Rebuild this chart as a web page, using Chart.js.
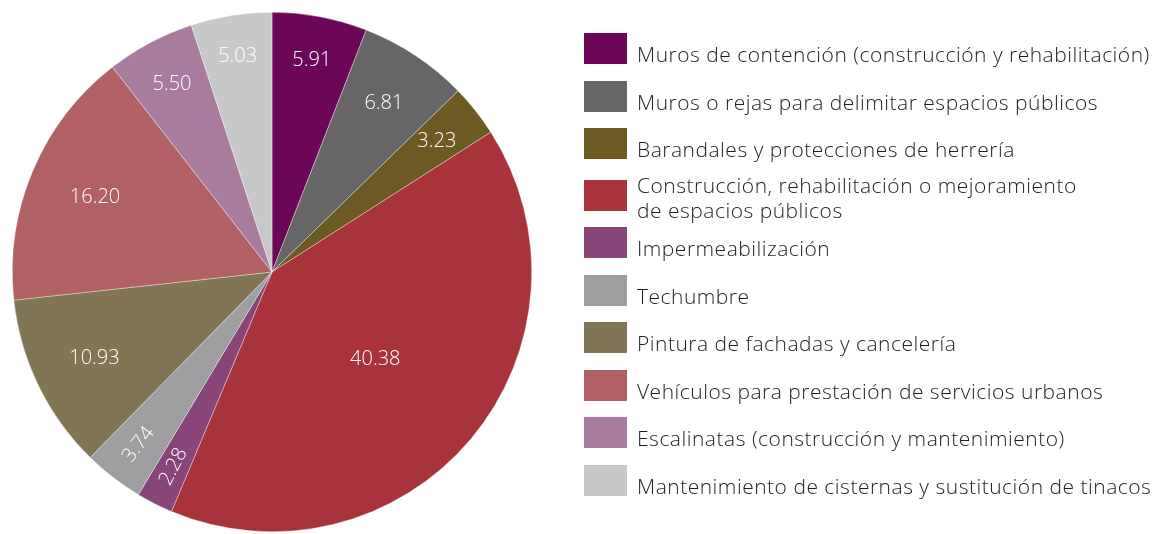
<!DOCTYPE html>
<html>
<head>
<meta charset="utf-8">
<script src="https://cdn.jsdelivr.net/npm/chart.js@4"></script>
<style>
  html, body { margin: 0; padding: 0; background: #fff; }
  #wrap { position: relative; width: 1158px; height: 534px; }
  #legend { position: absolute; left: 0; top: 0; font-family: "Open Sans", sans-serif; font-weight: 300; font-size: 21px; letter-spacing: 0.5px; color: #1e1e1e; }
  .row { position: absolute; left: 584px; display: flex; align-items: flex-start; white-space: nowrap; }
  .box { width: 43px; height: 31px; flex: none; }
  .txt { margin-left: 10px; line-height: 25px; }
</style>
</head>
<body>
<div id="wrap">
  <canvas id="pie" width="1158" height="534"></canvas>
  <div id="legend"></div>
</div>
<script>
// 項目名（凡例用、改行は配列で指定）
let labels = [
    ['Muros de contención (construcción y rehabilitación)'],
    ['Muros o rejas para delimitar espacios públicos'],
    ['Barandales y protecciones de herrería'],
    ['Construcción, rehabilitación o mejoramiento', 'de espacios públicos'],
    ['Impermeabilización'],
    ['Techumbre'],
    ['Pintura de fachadas y cancelería'],
    ['Vehículos para prestación de servicios urbanos'],
    ['Escalinatas (construcción y mantenimiento)'],
    ['Mantenimiento de cisternas y sustitución de tinacos']
];
// 割合（%）
let values = [5.91, 6.81, 3.23, 40.38, 2.28, 3.74, 10.93, 16.20, 5.50, 5.03];

let colors = ['#6c0656', '#666668', '#6b5a22', '#a8333a', '#874677',
              '#9d9ea0', '#807656', '#b16163', '#a87c9f', '#c7c8ca'];

// 数値ラベルの位置（半径に対する比率）と、細い扇形は半径方向に回転させる
let labelRadius = [0.83, 0.78, 0.81, 0.52, 0.84, 0.84, 0.76, 0.74, 0.82, 0.84];
let labelRotate = [false, false, false, false, true, true, false, false, false, false];

// 扇形の中に数値を描く
const valueLabels = {
    id: 'valueLabels',
    afterDatasetsDraw(chart) {
        const ctx = chart.ctx;
        const meta = chart.getDatasetMeta(0);
        ctx.save();
        ctx.fillStyle = '#ffffff';
        ctx.font = '300 20px "Open Sans", sans-serif';
        ctx.textAlign = 'center';
        ctx.textBaseline = 'middle';
        meta.data.forEach(function(arc, i){
            const mid = (arc.startAngle + arc.endAngle) / 2;
            const r = arc.outerRadius * labelRadius[i];
            const x = arc.x + Math.cos(mid) * r;
            const y = arc.y + Math.sin(mid) * r;
            ctx.save();
            ctx.translate(x, y);
            if (labelRotate[i]) {
                ctx.rotate(mid + Math.PI);
            }
            ctx.fillText(values[i].toFixed(2), 0, 0);
            ctx.restore();
        });
        ctx.restore();
    }
};

let ctx = document.getElementById('pie');
let myPieChart = new Chart(ctx, {
    type: 'pie',
    data: {
        labels: labels.map(l => l.join(' ')),
        datasets: [{
            data: values,
            backgroundColor: colors,
            borderColor: 'rgba(255,255,255,0.6)',
            borderWidth: 0.6
        }]
    },
    options: {
        responsive: false,
        animation: false,
        layout: {
            padding: { left: 12, top: 12, bottom: 2, right: 626 }
        },
        plugins: {
            legend: { display: false },
            tooltip: { enabled: false }
        }
    },
    plugins: [valueLabels]
});

// 凡例をHTMLで作る
let legend = document.getElementById('legend');
for (let i = 0; i < labels.length; i++) {
    let row = document.createElement('div');
    row.className = 'row';
    let top = 33 + i * 47.5 + (i >= 3 ? 4 : 0);
    row.style.top = top + 'px';
    let box = document.createElement('div');
    box.className = 'box';
    box.style.background = colors[i];
    let txt = document.createElement('div');
    txt.className = 'txt';
    if (labels[i].length > 1) {
        txt.style.marginTop = '-7px';
    } else {
        txt.style.marginTop = '9px';
    }
    txt.innerHTML = labels[i].join('<br>');
    row.appendChild(box);
    row.appendChild(txt);
    legend.appendChild(row);
}
</script>
</body>
</html>
